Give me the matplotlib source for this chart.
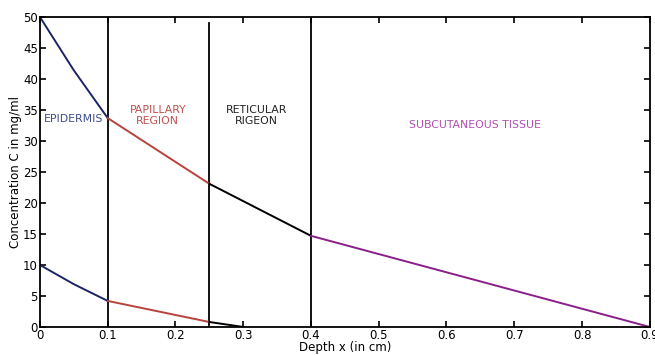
import numpy as np
import matplotlib.pyplot as plt

# layer boundaries (cm)
boundaries = [0.1, 0.25, 0.4]
boundary_tops = [50, 49, 50]

# concentration profiles, split by skin layer
epi_x = [0.0, 0.05, 0.1]
epi_hi = [50.0, 41.4, 33.7]
epi_lo = [10.0, 6.9, 4.2]

pap_x = [0.1, 0.25]
pap_hi = [33.7, 23.1]
pap_lo = [4.2, 0.8]

ret_x_hi = [0.25, 0.4]
ret_hi = [23.1, 14.7]
ret_x_lo = [0.25, 0.3]
ret_lo = [0.8, 0.0]

sub_x = [0.4, 0.9]
sub_hi = [14.7, 0.0]

blue = '#1c2468'
red = '#b8433c'
mag = '#8a1f8a'

fig = plt.figure(figsize=(6.55, 3.55), dpi=100)
ax = fig.add_axes([0.061, 0.079, 0.931, 0.873])

for xb, top in zip(boundaries, boundary_tops):
    ax.plot([xb, xb], [0, top], color='black', lw=1.3)

ax.plot(epi_x, epi_hi, color=blue, lw=1.4)
ax.plot(epi_x, epi_lo, color=blue, lw=1.4)
ax.plot(pap_x, pap_hi, color=red, lw=1.4)
ax.plot(pap_x, pap_lo, color=red, lw=1.4)
ax.plot(ret_x_hi, ret_hi, color='black', lw=1.4)
ax.plot(ret_x_lo, ret_lo, color='black', lw=1.4)
ax.plot(sub_x, sub_hi, color=mag, lw=1.4)

fs = 7.8
ax.text(0.05, 33.6, 'EPIDERMIS', color='#3d4c8c', fontsize=fs, ha='center', va='center')
ax.text(0.174, 34.1, 'PAPILLARY\nREGION', color='#c05050', fontsize=fs,
        ha='center', va='center', linespacing=1.1)
ax.text(0.32, 34.1, 'RETICULAR\nRIGEON', color='#222222', fontsize=fs,
        ha='center', va='center', linespacing=1.1)
ax.text(0.642, 32.6, 'SUBCUTANEOUS TISSUE', color='#b050b0', fontsize=fs,
        ha='center', va='center')

ax.set_xlim(0, 0.9)
ax.set_ylim(0, 50)
ax.set_xticks(np.arange(0, 1.0, 0.1))
ax.set_xticklabels(['0', '0.1', '0.2', '0.3', '0.4', '0.5', '0.6', '0.7', '0.8', '0.9'])
ax.set_yticks(np.arange(0, 55, 5))
ax.tick_params(direction='in', top=True, right=True, labelsize=8.5, length=4, width=1.2, pad=1.5)
for s in ax.spines.values():
    s.set_linewidth(1.3)

ax.set_xlabel('Depth x (in cm)', fontsize=8.5, labelpad=-1)
ax.set_ylabel('Concentration C in mg/ml', fontsize=8.5, labelpad=1)

fig.savefig('out.png', dpi=100)
